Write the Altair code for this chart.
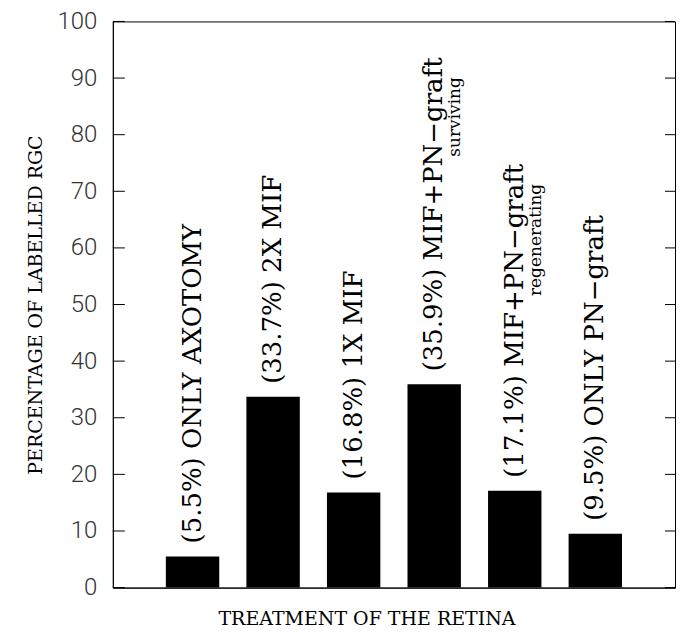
import altair as alt
import pandas as pd

# ---- data ----
categories = ["ONLY AXOTOMY", "2X MIF", "1X MIF",
              "MIF+PN-graft surviving", "MIF+PN-graft regenerating", "ONLY PN-graft"]
values = [5.5, 33.7, 16.8, 35.9, 17.1, 9.5]
labels = ["(5.5%) ONLY AXOTOMY", "(33.7%) 2X MIF", "(16.8%) 1X MIF",
          "(35.9%) MIF+PN\u2212graft", "(17.1%) MIF+PN\u2212graft", "(9.5%) ONLY PN\u2212graft"]
subscripts = ["", "", "", "surviving", "regenerating", ""]
y_ticks = [0, 10, 20, 30, 40, 50, 60, 70, 80, 90, 100]

df = pd.DataFrame({"cat": categories, "value": values, "label": labels, "sub": subscripts})
ticks_df = pd.DataFrame({"t": y_ticks})

W, H = 563, 567
SERIF = "DejaVu Serif"
SANS = "Roboto"

xscale = alt.Scale(domain=categories, paddingInner=0.337, paddingOuter=0.658)
yscale = alt.Scale(domain=[0, 100], nice=False)

x_enc = alt.X("cat:N", scale=xscale, sort=categories,
              axis=alt.Axis(labels=False, ticks=False, domain=True, domainColor="black",
                            title="TREATMENT OF THE RETINA", titleFont=SERIF,
                            titleFontSize=19, titleFontWeight="normal", titleColor="black",
                            titleX=254, titleY=37, titleAlign="center",
                            titleBaseline="alphabetic"))
y_enc = alt.Y("value:Q", scale=yscale,
              axis=alt.Axis(values=y_ticks, ticks=False, grid=False, domain=True,
                            domainColor="black", labelFont=SANS, labelFontSize=24,
                            labelFontWeight=300, labelColor="#333", labelPadding=16,
                            title="PERCENTAGE OF LABELLED RGC", titleFont=SERIF,
                            titleFontSize=19, titleFontWeight="normal", titleColor="black",
                            titlePadding=12))

bars = alt.Chart(df).mark_bar(color="black").encode(x=x_enc, y=y_enc)

main_text = alt.Chart(df).mark_text(
    angle=270, align="left", baseline="middle", dx=13,
    font=SERIF, fontSize=26, color="black"
).encode(x=alt.X("cat:N", scale=xscale, sort=categories),
         y=alt.Y("value:Q", scale=yscale), text="label:N")

sub_surv = alt.Chart(df).transform_filter(alt.datum.sub == "surviving").mark_text(
    angle=270, align="left", baseline="middle", dx=228, dy=21,
    font=SERIF, fontSize=17, color="black"
).encode(x=alt.X("cat:N", scale=xscale, sort=categories),
         y=alt.Y("value:Q", scale=yscale), text="sub:N")

sub_regen = alt.Chart(df).transform_filter(alt.datum.sub == "regenerating").mark_text(
    angle=270, align="left", baseline="middle", dx=195, dy=21,
    font=SERIF, fontSize=17, color="black"
).encode(x=alt.X("cat:N", scale=xscale, sort=categories),
         y=alt.Y("value:Q", scale=yscale), text="sub:N")

left_ticks = alt.Chart(ticks_df).mark_rule(color="black", strokeWidth=1).encode(
    y=alt.Y("t:Q", scale=yscale), x=alt.value(0), x2=alt.value(12))
right_ticks = alt.Chart(ticks_df).mark_rule(color="black", strokeWidth=1).encode(
    y=alt.Y("t:Q", scale=yscale), x=alt.value(W - 10), x2=alt.value(W))

chart = alt.layer(bars, main_text, sub_surv, sub_regen, left_ticks, right_ticks).properties(
    width=W, height=H,
    padding={"left": 105, "top": 13, "right": 2, "bottom": 46},
    autosize=alt.AutoSizeParams(type="none"),
    background="white",
).configure_view(stroke="black", strokeWidth=1)

chart.save("out.html", embed_options={"renderer": "svg", "actions": False})
